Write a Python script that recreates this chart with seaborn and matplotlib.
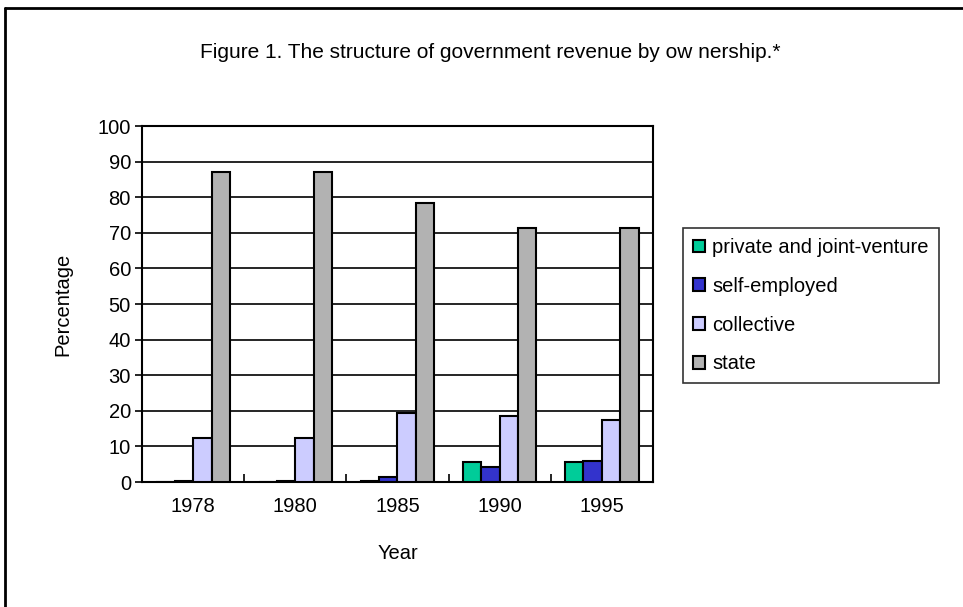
import pandas as pd
import numpy as np
import matplotlib.pyplot as plt
import seaborn as sns
from matplotlib.lines import Line2D
from matplotlib.patches import Patch

# --- data --------------------------------------------------------------------
years = ["1978", "1980", "1985", "1990", "1995"]
private_jv = [0.0, 0.0, 0.4, 5.5, 5.5]
self_employed = [0.4, 0.4, 1.4, 4.3, 5.9]
collective = [12.3, 12.3, 19.4, 18.5, 17.3]
state = [87.2, 87.2, 78.3, 71.4, 71.4]

series_names = ["private and joint-venture", "self-employed", "collective", "state"]
series_colors = ["#00CC99", "#3333CC", "#CCCCFF", "#B2B2B2"]

df = pd.DataFrame({
    "Year": years * 4,
    "Ownership": np.repeat(series_names, len(years)),
    "Percentage": private_jv + self_employed + collective + state,
})

# --- figure ---------------------------------------------------------------
sns.set_style("white")
plt.rcParams["font.family"] = ["Liberation Sans", "DejaVu Sans"]
plt.rcParams["text.color"] = "black"
plt.rcParams["axes.labelcolor"] = "black"
plt.rcParams["xtick.color"] = "black"
plt.rcParams["ytick.color"] = "black"

fs = 14.5

fig = plt.figure(figsize=(9.63, 6.07), dpi=100)
ax = fig.add_axes([0.1475, 0.2059, 0.5305, 0.5865])

sns.barplot(data=df, x="Year", y="Percentage", hue="Ownership",
            hue_order=series_names, palette=series_colors, saturation=1,
            width=0.72, edgecolor="black", linewidth=1.5,
            ax=ax, legend=False, zorder=3)

ax.set_ylim(0, 100)
ax.set_xlim(-0.5, 4.5)
ax.set_yticks(range(0, 101, 10))
ax.yaxis.grid(True, color="black", linewidth=1.2, zorder=0)
ax.set_axisbelow(True)
for sp in ax.spines.values():
    sp.set_color("black")
    sp.set_linewidth(1.5)

ax.tick_params(axis="y", direction="out", length=5, width=1.2, labelsize=fs,
               left=True, pad=3)
ax.tick_params(axis="x", which="major", length=0, labelsize=fs, pad=11)
ax.set_xticks([0.5, 1.5, 2.5, 3.5], minor=True)
ax.tick_params(axis="x", which="minor", direction="in", length=6, width=1.2,
               bottom=True)

ax.set_xlabel("Year", fontsize=fs, labelpad=20)
ax.set_ylabel("Percentage", fontsize=fs, labelpad=18)

fig.text(0.509, 0.914, "Figure 1. The structure of government revenue by ow nership.*",
         ha="center", va="center", fontsize=15)

handles = [Patch(facecolor=c, edgecolor="black", linewidth=1.5) for c in series_colors]
leg = fig.legend(handles, series_names, loc="upper left",
                 bbox_to_anchor=(683 / 963, 1 - 228 / 607),
                 frameon=True, fancybox=False, fontsize=fs,
                 handlelength=0.6, handleheight=0.6, handletextpad=0.35,
                 labelspacing=0.98, borderpad=0.5, borderaxespad=0)
leg.get_frame().set_edgecolor("black")
leg.get_frame().set_linewidth(1.2)

# outer frame (top and left visible)
fig.add_artist(Line2D([5 / 963, 1.0], [1 - 8 / 607, 1 - 8 / 607],
                      color="black", linewidth=2, transform=fig.transFigure))
fig.add_artist(Line2D([5 / 963, 5 / 963], [0, 1 - 8 / 607],
                      color="black", linewidth=2, transform=fig.transFigure))

fig.savefig("out.png", dpi=100)
